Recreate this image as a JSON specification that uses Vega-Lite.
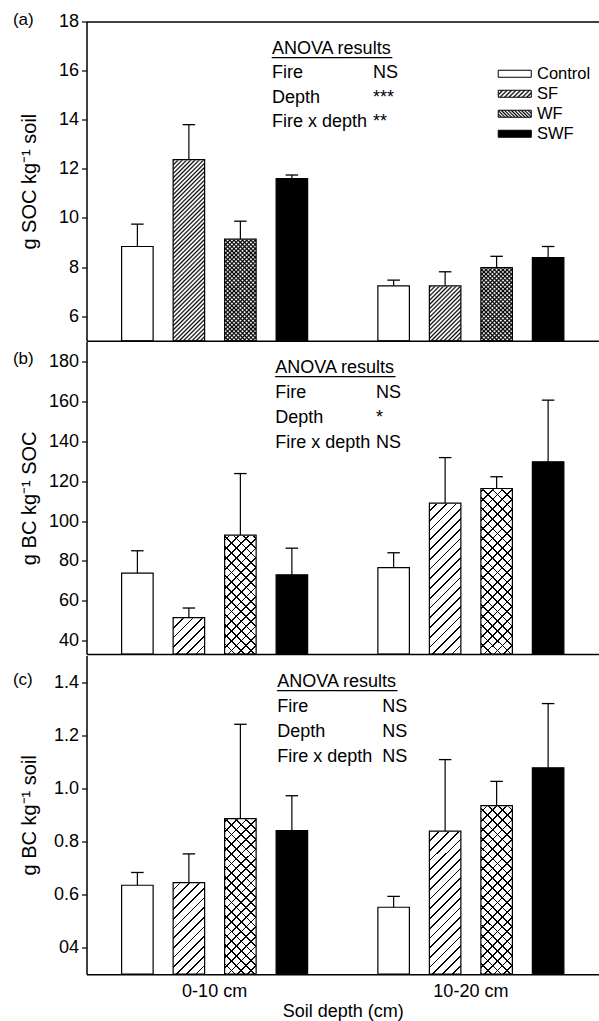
{
"$schema":"https://vega.github.io/schema/vega-lite/v6.json",
"background":"white",
"padding":{"left":12.5,"top":10.5,"right":0,"bottom":0},
"spacing":-1,
"config":{
 "font":"Liberation Sans",
 "view":{"stroke":null},
 "axis":{"grid":false,"labelFont":"Liberation Sans","titleFont":"Liberation Sans","labelColor":"#000","titleColor":"#000","tickColor":"#000","domainColor":"#000","titleFontWeight":"normal","zindex":1},
 "text":{"font":"Liberation Sans","color":"#000"}
},
"params":[
 {"name":"stA","value":[
  {"offset":0,"color":"#000"},{"offset":0.0078,"color":"#0000"},{"offset":0.0118,"color":"#0000"},
  {"offset":0.0196,"color":"#000"},{"offset":0.0275,"color":"#0000"},{"offset":0.0314,"color":"#0000"},
  {"offset":0.0392,"color":"#000"},{"offset":0.0471,"color":"#0000"},{"offset":0.0510,"color":"#0000"},
  {"offset":0.0588,"color":"#000"},{"offset":0.0667,"color":"#0000"},{"offset":0.0706,"color":"#0000"},
  {"offset":0.0784,"color":"#000"},{"offset":0.0863,"color":"#0000"},{"offset":0.0902,"color":"#0000"},
  {"offset":0.0980,"color":"#000"},{"offset":0.1059,"color":"#0000"},{"offset":0.1098,"color":"#0000"},
  {"offset":0.1176,"color":"#000"},{"offset":0.1255,"color":"#0000"},{"offset":0.1294,"color":"#0000"},
  {"offset":0.1373,"color":"#000"},{"offset":0.1451,"color":"#0000"},{"offset":0.1490,"color":"#0000"},
  {"offset":0.1569,"color":"#000"},{"offset":0.1647,"color":"#0000"},{"offset":0.1686,"color":"#0000"},
  {"offset":0.1765,"color":"#000"},{"offset":0.1843,"color":"#0000"},{"offset":0.1882,"color":"#0000"},
  {"offset":0.1961,"color":"#000"},{"offset":0.2039,"color":"#0000"},{"offset":0.2078,"color":"#0000"},
  {"offset":0.2157,"color":"#000"},{"offset":0.2235,"color":"#0000"},{"offset":0.2275,"color":"#0000"},
  {"offset":0.2353,"color":"#000"},{"offset":0.2431,"color":"#0000"},{"offset":0.2471,"color":"#0000"},
  {"offset":0.2549,"color":"#000"},{"offset":0.2627,"color":"#0000"},{"offset":0.2667,"color":"#0000"},
  {"offset":0.2745,"color":"#000"},{"offset":0.2824,"color":"#0000"},{"offset":0.2863,"color":"#0000"},
  {"offset":0.2941,"color":"#000"},{"offset":0.3020,"color":"#0000"},{"offset":0.3059,"color":"#0000"},
  {"offset":0.3137,"color":"#000"},{"offset":0.3216,"color":"#0000"},{"offset":0.3255,"color":"#0000"},
  {"offset":0.3333,"color":"#000"},{"offset":0.3412,"color":"#0000"},{"offset":0.3451,"color":"#0000"},
  {"offset":0.3529,"color":"#000"},{"offset":0.3608,"color":"#0000"},{"offset":0.3647,"color":"#0000"},
  {"offset":0.3725,"color":"#000"},{"offset":0.3804,"color":"#0000"},{"offset":0.3843,"color":"#0000"},
  {"offset":0.3922,"color":"#000"},{"offset":0.4000,"color":"#0000"},{"offset":0.4039,"color":"#0000"},
  {"offset":0.4118,"color":"#000"},{"offset":0.4196,"color":"#0000"},{"offset":0.4235,"color":"#0000"},
  {"offset":0.4314,"color":"#000"},{"offset":0.4392,"color":"#0000"},{"offset":0.4431,"color":"#0000"},
  {"offset":0.4510,"color":"#000"},{"offset":0.4588,"color":"#0000"},{"offset":0.4627,"color":"#0000"},
  {"offset":0.4706,"color":"#000"},{"offset":0.4784,"color":"#0000"},{"offset":0.4824,"color":"#0000"},
  {"offset":0.4902,"color":"#000"},{"offset":0.4980,"color":"#0000"},{"offset":0.5020,"color":"#0000"},
  {"offset":0.5098,"color":"#000"},{"offset":0.5176,"color":"#0000"},{"offset":0.5216,"color":"#0000"},
  {"offset":0.5294,"color":"#000"},{"offset":0.5373,"color":"#0000"},{"offset":0.5412,"color":"#0000"},
  {"offset":0.5490,"color":"#000"},{"offset":0.5569,"color":"#0000"},{"offset":0.5608,"color":"#0000"},
  {"offset":0.5686,"color":"#000"},{"offset":0.5765,"color":"#0000"},{"offset":0.5804,"color":"#0000"},
  {"offset":0.5882,"color":"#000"},{"offset":0.5961,"color":"#0000"},{"offset":0.6000,"color":"#0000"},
  {"offset":0.6078,"color":"#000"},{"offset":0.6157,"color":"#0000"},{"offset":0.6196,"color":"#0000"},
  {"offset":0.6275,"color":"#000"},{"offset":0.6353,"color":"#0000"},{"offset":0.6392,"color":"#0000"},
  {"offset":0.6471,"color":"#000"},{"offset":0.6549,"color":"#0000"},{"offset":0.6588,"color":"#0000"},
  {"offset":0.6667,"color":"#000"},{"offset":0.6745,"color":"#0000"},{"offset":0.6784,"color":"#0000"},
  {"offset":0.6863,"color":"#000"},{"offset":0.6941,"color":"#0000"},{"offset":0.6980,"color":"#0000"},
  {"offset":0.7059,"color":"#000"},{"offset":0.7137,"color":"#0000"},{"offset":0.7176,"color":"#0000"},
  {"offset":0.7255,"color":"#000"},{"offset":0.7333,"color":"#0000"},{"offset":0.7373,"color":"#0000"},
  {"offset":0.7451,"color":"#000"},{"offset":0.7529,"color":"#0000"},{"offset":0.7569,"color":"#0000"},
  {"offset":0.7647,"color":"#000"},{"offset":0.7725,"color":"#0000"},{"offset":0.7765,"color":"#0000"},
  {"offset":0.7843,"color":"#000"},{"offset":0.7922,"color":"#0000"},{"offset":0.7961,"color":"#0000"},
  {"offset":0.8039,"color":"#000"},{"offset":0.8118,"color":"#0000"},{"offset":0.8157,"color":"#0000"},
  {"offset":0.8235,"color":"#000"},{"offset":0.8314,"color":"#0000"},{"offset":0.8353,"color":"#0000"},
  {"offset":0.8431,"color":"#000"},{"offset":0.8510,"color":"#0000"},{"offset":0.8549,"color":"#0000"},
  {"offset":0.8627,"color":"#000"},{"offset":0.8706,"color":"#0000"},{"offset":0.8745,"color":"#0000"},
  {"offset":0.8824,"color":"#000"},{"offset":0.8902,"color":"#0000"},{"offset":0.8941,"color":"#0000"},
  {"offset":0.9020,"color":"#000"},{"offset":0.9098,"color":"#0000"},{"offset":0.9137,"color":"#0000"},
  {"offset":0.9216,"color":"#000"},{"offset":0.9294,"color":"#0000"},{"offset":0.9333,"color":"#0000"},
  {"offset":0.9412,"color":"#000"},{"offset":0.9490,"color":"#0000"},{"offset":0.9529,"color":"#0000"},
  {"offset":0.9608,"color":"#000"},{"offset":0.9686,"color":"#0000"},{"offset":0.9725,"color":"#0000"},
  {"offset":0.9804,"color":"#000"},{"offset":0.9882,"color":"#0000"},{"offset":0.9922,"color":"#0000"},
  {"offset":1,"color":"#000"}
 ]},
 {"name":"stB","value":[
  {"offset":0,"color":"#000"},{"offset":0.0085,"color":"#000"},{"offset":0.0085,"color":"#0000"},{"offset":0.0476,"color":"#0000"},
  {"offset":0.0476,"color":"#000"},{"offset":0.0561,"color":"#000"},{"offset":0.0561,"color":"#0000"},{"offset":0.0952,"color":"#0000"},
  {"offset":0.0952,"color":"#000"},{"offset":0.1037,"color":"#000"},{"offset":0.1037,"color":"#0000"},{"offset":0.1429,"color":"#0000"},
  {"offset":0.1429,"color":"#000"},{"offset":0.1514,"color":"#000"},{"offset":0.1514,"color":"#0000"},{"offset":0.1905,"color":"#0000"},
  {"offset":0.1905,"color":"#000"},{"offset":0.1990,"color":"#000"},{"offset":0.1990,"color":"#0000"},{"offset":0.2381,"color":"#0000"},
  {"offset":0.2381,"color":"#000"},{"offset":0.2466,"color":"#000"},{"offset":0.2466,"color":"#0000"},{"offset":0.2857,"color":"#0000"},
  {"offset":0.2857,"color":"#000"},{"offset":0.2942,"color":"#000"},{"offset":0.2942,"color":"#0000"},{"offset":0.3333,"color":"#0000"},
  {"offset":0.3333,"color":"#000"},{"offset":0.3418,"color":"#000"},{"offset":0.3418,"color":"#0000"},{"offset":0.3810,"color":"#0000"},
  {"offset":0.3810,"color":"#000"},{"offset":0.3895,"color":"#000"},{"offset":0.3895,"color":"#0000"},{"offset":0.4286,"color":"#0000"},
  {"offset":0.4286,"color":"#000"},{"offset":0.4371,"color":"#000"},{"offset":0.4371,"color":"#0000"},{"offset":0.4762,"color":"#0000"},
  {"offset":0.4762,"color":"#000"},{"offset":0.4847,"color":"#000"},{"offset":0.4847,"color":"#0000"},{"offset":0.5238,"color":"#0000"},
  {"offset":0.5238,"color":"#000"},{"offset":0.5323,"color":"#000"},{"offset":0.5323,"color":"#0000"},{"offset":0.5714,"color":"#0000"},
  {"offset":0.5714,"color":"#000"},{"offset":0.5799,"color":"#000"},{"offset":0.5799,"color":"#0000"},{"offset":0.6190,"color":"#0000"},
  {"offset":0.6190,"color":"#000"},{"offset":0.6275,"color":"#000"},{"offset":0.6275,"color":"#0000"},{"offset":0.6667,"color":"#0000"},
  {"offset":0.6667,"color":"#000"},{"offset":0.6752,"color":"#000"},{"offset":0.6752,"color":"#0000"},{"offset":0.7143,"color":"#0000"},
  {"offset":0.7143,"color":"#000"},{"offset":0.7228,"color":"#000"},{"offset":0.7228,"color":"#0000"},{"offset":0.7619,"color":"#0000"},
  {"offset":0.7619,"color":"#000"},{"offset":0.7704,"color":"#000"},{"offset":0.7704,"color":"#0000"},{"offset":0.8095,"color":"#0000"},
  {"offset":0.8095,"color":"#000"},{"offset":0.8180,"color":"#000"},{"offset":0.8180,"color":"#0000"},{"offset":0.8571,"color":"#0000"},
  {"offset":0.8571,"color":"#000"},{"offset":0.8656,"color":"#000"},{"offset":0.8656,"color":"#0000"},{"offset":0.9048,"color":"#0000"},
  {"offset":0.9048,"color":"#000"},{"offset":0.9133,"color":"#000"},{"offset":0.9133,"color":"#0000"},{"offset":0.9524,"color":"#0000"},
  {"offset":0.9524,"color":"#000"},{"offset":0.9609,"color":"#000"},{"offset":0.9609,"color":"#0000"},{"offset":1,"color":"#0000"}
 ]},
 {"name":"stL1","value":[
  {"offset":0,"color":"#000"},{"offset":0.0444,"color":"#0000"},{"offset":0.0667,"color":"#0000"},
  {"offset":0.1111,"color":"#000"},{"offset":0.1556,"color":"#0000"},{"offset":0.1778,"color":"#0000"},
  {"offset":0.2222,"color":"#000"},{"offset":0.2667,"color":"#0000"},{"offset":0.2889,"color":"#0000"},
  {"offset":0.3333,"color":"#000"},{"offset":0.3778,"color":"#0000"},{"offset":0.4000,"color":"#0000"},
  {"offset":0.4444,"color":"#000"},{"offset":0.4889,"color":"#0000"},{"offset":0.5111,"color":"#0000"},
  {"offset":0.5556,"color":"#000"},{"offset":0.6000,"color":"#0000"},{"offset":0.6222,"color":"#0000"},
  {"offset":0.6667,"color":"#000"},{"offset":0.7111,"color":"#0000"},{"offset":0.7333,"color":"#0000"},
  {"offset":0.7778,"color":"#000"},{"offset":0.8222,"color":"#0000"},{"offset":0.8444,"color":"#0000"},
  {"offset":0.8889,"color":"#000"},{"offset":0.9333,"color":"#0000"},{"offset":0.9556,"color":"#0000"},
  {"offset":1,"color":"#000"}
 ]},
 {"name":"stL2","value":[
  {"offset":0,"color":"#000"},{"offset":0.0417,"color":"#fff"},{"offset":0.0833,"color":"#000"},{"offset":0.125,"color":"#fff"},
  {"offset":0.1667,"color":"#000"},{"offset":0.2083,"color":"#fff"},{"offset":0.25,"color":"#000"},{"offset":0.2917,"color":"#fff"},
  {"offset":0.3333,"color":"#000"},{"offset":0.375,"color":"#fff"},{"offset":0.4167,"color":"#000"},{"offset":0.4583,"color":"#fff"},
  {"offset":0.5,"color":"#000"},{"offset":0.5417,"color":"#fff"},{"offset":0.5833,"color":"#000"},{"offset":0.625,"color":"#fff"},
  {"offset":0.6667,"color":"#000"},{"offset":0.7083,"color":"#fff"},{"offset":0.75,"color":"#000"},{"offset":0.7917,"color":"#fff"},
  {"offset":0.8333,"color":"#000"},{"offset":0.875,"color":"#fff"},{"offset":0.9167,"color":"#000"},{"offset":0.9583,"color":"#fff"},
  {"offset":1,"color":"#000"}
 ]}
],
"datasets":{
 "barsA":[
  {"depth":"0-10 cm","trt":"Control","mean":8.84,"hi":9.75},
  {"depth":"0-10 cm","trt":"SF","mean":12.38,"hi":13.8},
  {"depth":"0-10 cm","trt":"WF","mean":9.14,"hi":9.87},
  {"depth":"0-10 cm","trt":"SWF","mean":11.6,"hi":11.75},
  {"depth":"10-20 cm","trt":"Control","mean":7.24,"hi":7.47},
  {"depth":"10-20 cm","trt":"SF","mean":7.24,"hi":7.81},
  {"depth":"10-20 cm","trt":"WF","mean":7.98,"hi":8.44},
  {"depth":"10-20 cm","trt":"SWF","mean":8.39,"hi":8.84}
 ],
 "barsB":[
  {"depth":"0-10 cm","trt":"Control","mean":73.9,"hi":85.1},
  {"depth":"0-10 cm","trt":"SF","mean":51.6,"hi":56.4},
  {"depth":"0-10 cm","trt":"WF","mean":92.95,"hi":123.8},
  {"depth":"0-10 cm","trt":"SWF","mean":73.05,"hi":86.4},
  {"depth":"10-20 cm","trt":"Control","mean":76.6,"hi":84.1},
  {"depth":"10-20 cm","trt":"SF","mean":109.0,"hi":131.8},
  {"depth":"10-20 cm","trt":"WF","mean":116.3,"hi":122.2},
  {"depth":"10-20 cm","trt":"SWF","mean":129.7,"hi":160.6}
 ],
 "barsC":[
  {"depth":"0-10 cm","trt":"Control","mean":0.635,"hi":0.683},
  {"depth":"0-10 cm","trt":"SF","mean":0.645,"hi":0.753},
  {"depth":"0-10 cm","trt":"WF","mean":0.886,"hi":1.241},
  {"depth":"0-10 cm","trt":"SWF","mean":0.841,"hi":0.972},
  {"depth":"10-20 cm","trt":"Control","mean":0.552,"hi":0.593},
  {"depth":"10-20 cm","trt":"SF","mean":0.839,"hi":1.108},
  {"depth":"10-20 cm","trt":"WF","mean":0.935,"hi":1.026},
  {"depth":"10-20 cm","trt":"SWF","mean":1.077,"hi":1.319}
 ],
 "notesA":[{"label":"(a)","terms":["ANOVA results","Fire","Depth","Fire x depth"],"sig":["","NS","***","**"]}],
 "notesB":[{"label":"(b)","terms":["ANOVA results","Fire","Depth","Fire x depth"],"sig":["","NS","*","NS"]}],
 "notesC":[{"label":"(c)","terms":["ANOVA results","Fire","Depth","Fire x depth"],"sig":["","NS","NS","NS"]}]
},
"resolve":{"scale":{"fill":"independent"},"legend":{"fill":"independent"}},
"vconcat":[
 {
  "width":512.5,"height":319.3,
  "resolve":{"axis":{"x":"independent"}},
  "layer":[
   {"data":{"name":"barsA"},"transform":[{"filter":"datum.trt==='SF'||datum.trt==='WF'"}],
    "mark":{"type":"bar","fill":{"expr":"{gradient:'linear',x1:0,y1:0,x2:0.1946,y2:1.1377,stops:stA}"}},
    "encoding":{
     "x":{"field":"depth","type":"nominal","scale":{"domain":["0-10 cm","10-20 cm"],"paddingInner":0,"paddingOuter":0},"axis":{"orient":"top","labels":false,"ticks":false,"domain":true,"domainWidth":1.5,"title":null,"zindex":3}},
     "xOffset":{"field":"trt","type":"nominal","scale":{"domain":["Control","SF","WF","SWF"],"paddingInner":0.38835,"paddingOuter":0.682}},
     "y":{"datum":12.5,"type":"quantitative","scale":{"domain":[5,18],"zero":false,"nice":false},"axis":{"title":"g SOC kg⁻¹ soil","values":[6,8,10,12,14,16,18],"tickSize":5,"tickWidth":1.2,"labelPadding":3,"labelFontSize":18,"domain":true,"domainWidth":1.5,"minExtent":39,"maxExtent":39,"titlePadding":8,"titleFontSize":20,"zindex":3}},
     "y2":{"datum":5}}},
   {"data":{"name":"barsA"},"transform":[{"filter":"datum.trt==='WF'"}],
    "mark":{"type":"bar","fill":{"expr":"{gradient:'linear',x1:0,y1:1,x2:0.1946,y2:-0.1377,stops:stA}"}},
    "encoding":{
     "x":{"field":"depth","type":"nominal","axis":null},
     "xOffset":{"field":"trt","type":"nominal"},
     "y":{"datum":12.5,"type":"quantitative"},
     "y2":{"datum":5}}},
   {"data":{"name":"barsA"},"transform":[{"filter":"datum.trt==='SF'||datum.trt==='WF'"}],
    "mark":{"type":"bar","fill":"white","stroke":"white","strokeWidth":1.5},
    "encoding":{
     "x":{"field":"depth","type":"nominal","axis":null},
     "xOffset":{"field":"trt","type":"nominal"},
     "y":{"field":"mean","type":"quantitative"},
     "y2":{"datum":12.7}}},
   {"data":{"name":"barsA"},
    "mark":{"type":"bar","stroke":"black","strokeWidth":1.2},
    "encoding":{
     "x":{"field":"depth","type":"nominal","axis":{"orient":"bottom","labels":false,"ticks":false,"domain":true,"domainWidth":1.5,"title":null,"zindex":3}},
     "xOffset":{"field":"trt","type":"nominal"},
     "y":{"field":"mean","type":"quantitative"},
     "y2":{"datum":5},
     "fill":{"field":"trt","type":"nominal",
      "scale":{"domain":["Control","SF","WF","SWF"],"range":["#ffffff",{"expr":"{gradient:'linear',x1:0,y1:0,x2:1.16,y2:0.246,stops:stL1}"},{"expr":"{gradient:'linear',x1:0,y1:1,x2:1.16,y2:0.754,stops:stL2}"},"#000000"]},
      "legend":{"orient":"none","legendX":420,"legendY":44,"title":null,"symbolType":"M-2.36,-0.5H2.36V0.5H-2.36Z","symbolSize":196,"symbolStrokeColor":"black","symbolStrokeWidth":1,"symbolOpacity":1,"labelFontSize":16.5,"labelFont":"Liberation Sans","labelColor":"black","labelOffset":14,"rowPadding":3,"padding":0,"zindex":2},
      "condition":{"test":"datum.trt==='SF'||datum.trt==='WF'","value":"transparent"}}}},
   {"data":{"name":"barsA"},
    "mark":{"type":"rule","color":"black","strokeWidth":1.2},
    "encoding":{
     "x":{"field":"depth","type":"nominal","axis":null},
     "xOffset":{"field":"trt","type":"nominal"},
     "y":{"field":"mean","type":"quantitative"},
     "y2":{"field":"hi"}}},
   {"data":{"name":"barsA"},
    "mark":{"type":"tick","color":"black","thickness":1.3,"size":12.5,"opacity":1},
    "encoding":{
     "x":{"field":"depth","type":"nominal","axis":null},
     "xOffset":{"field":"trt","type":"nominal"},
     "y":{"field":"hi","type":"quantitative"}}},
   {"data":{"name":"notesA"},
    "mark":{"type":"text","align":"left","baseline":"alphabetic","fontSize":18,"lineHeight":24.5,"dx":57.3,"dy":32,"color":"black"},
    "encoding":{"x":{"datum":"0-10 cm","axis":null},"y":{"datum":18},"text":{"field":"terms"}}},
   {"data":{"name":"notesA"},
    "mark":{"type":"text","align":"left","baseline":"alphabetic","fontSize":18,"lineHeight":24.5,"dx":158.3,"dy":32,"color":"black"},
    "encoding":{"x":{"datum":"0-10 cm","axis":null},"y":{"datum":18},"text":{"field":"sig"}}},
   {"data":{"name":"notesA"},
    "mark":{"type":"text","align":"left","baseline":"alphabetic","fontSize":18,"dx":57.3,"dy":32,"color":"black","text":"____________"},
    "encoding":{"x":{"datum":"0-10 cm","axis":null},"y":{"datum":18}}},
   {"data":{"name":"notesA"},
    "mark":{"type":"text","align":"left","baseline":"middle","fontSize":17,"dx":-201.7,"dy":-2,"color":"black"},
    "encoding":{"x":{"datum":"0-10 cm","axis":null},"y":{"datum":18},"text":{"field":"label"}}}
  ]
 },
 {
  "width":512.5,"height":312.6,
  "layer":[
   {"data":{"name":"barsB"},"transform":[{"filter":"datum.trt==='SF'||datum.trt==='WF'"}],
    "mark":{"type":"bar","fill":{"expr":"{gradient:'linear',x1:0,y1:0,x2:0.2083,y2:1.1442,stops:stB}"}},
    "encoding":{
     "x":{"field":"depth","type":"nominal","scale":{"domain":["0-10 cm","10-20 cm"],"paddingInner":0,"paddingOuter":0},"axis":{"orient":"bottom","labels":false,"ticks":false,"domain":true,"domainWidth":1.5,"title":null,"zindex":3}},
     "xOffset":{"field":"trt","type":"nominal","scale":{"domain":["Control","SF","WF","SWF"],"paddingInner":0.38835,"paddingOuter":0.682}},
     "y":{"datum":120,"type":"quantitative","scale":{"domain":[33.3,190],"zero":false,"nice":false},"axis":{"title":"g BC kg⁻¹ SOC","values":[40,60,80,100,120,140,160,180],"tickSize":5,"tickWidth":1.2,"labelPadding":3,"labelFontSize":18,"domain":true,"domainWidth":1.5,"minExtent":39,"maxExtent":39,"titlePadding":8,"titleFontSize":20,"zindex":3}},
     "y2":{"datum":33.3}}},
   {"data":{"name":"barsB"},"transform":[{"filter":"datum.trt==='WF'"}],
    "mark":{"type":"bar","fill":{"expr":"{gradient:'linear',x1:0,y1:1,x2:0.2083,y2:-0.1442,stops:stB}"}},
    "encoding":{
     "x":{"field":"depth","type":"nominal"},
     "xOffset":{"field":"trt","type":"nominal"},
     "y":{"datum":120,"type":"quantitative"},
     "y2":{"datum":33.3}}},
   {"data":{"name":"barsB"},"transform":[{"filter":"datum.trt==='SF'||datum.trt==='WF'"}],
    "mark":{"type":"bar","fill":"white","stroke":"white","strokeWidth":1.5},
    "encoding":{
     "x":{"field":"depth","type":"nominal"},
     "xOffset":{"field":"trt","type":"nominal"},
     "y":{"field":"mean","type":"quantitative"},
     "y2":{"datum":121.5}}},
   {"data":{"name":"barsB"},
    "mark":{"type":"bar","stroke":"black","strokeWidth":1.2},
    "encoding":{
     "x":{"field":"depth","type":"nominal"},
     "xOffset":{"field":"trt","type":"nominal"},
     "y":{"field":"mean","type":"quantitative"},
     "y2":{"datum":33.3},
     "fill":{"field":"trt","type":"nominal","scale":{"domain":["Control","SF","WF","SWF"],"range":["#ffffff","#ffffff","#ffffff","#000000"]},"legend":null,
      "condition":{"test":"datum.trt==='SF'||datum.trt==='WF'","value":"transparent"}}}},
   {"data":{"name":"barsB"},
    "mark":{"type":"rule","color":"black","strokeWidth":1.2},
    "encoding":{
     "x":{"field":"depth","type":"nominal"},
     "xOffset":{"field":"trt","type":"nominal"},
     "y":{"field":"mean","type":"quantitative"},
     "y2":{"field":"hi"}}},
   {"data":{"name":"barsB"},
    "mark":{"type":"tick","color":"black","thickness":1.3,"size":12.5,"opacity":1},
    "encoding":{
     "x":{"field":"depth","type":"nominal"},
     "xOffset":{"field":"trt","type":"nominal"},
     "y":{"field":"hi","type":"quantitative"}}},
   {"data":{"name":"notesB"},
    "mark":{"type":"text","align":"left","baseline":"alphabetic","fontSize":18,"lineHeight":25,"dx":60.6,"dy":31,"color":"black"},
    "encoding":{"x":{"datum":"0-10 cm"},"y":{"datum":190},"text":{"field":"terms"}}},
   {"data":{"name":"notesB"},
    "mark":{"type":"text","align":"left","baseline":"alphabetic","fontSize":18,"lineHeight":25,"dx":161.3,"dy":31,"color":"black"},
    "encoding":{"x":{"datum":"0-10 cm"},"y":{"datum":190},"text":{"field":"sig"}}},
   {"data":{"name":"notesB"},
    "mark":{"type":"text","align":"left","baseline":"alphabetic","fontSize":18,"dx":60.6,"dy":31,"color":"black","text":"____________"},
    "encoding":{"x":{"datum":"0-10 cm"},"y":{"datum":190}}},
   {"data":{"name":"notesB"},
    "mark":{"type":"text","align":"left","baseline":"middle","fontSize":17,"dx":-201.7,"dy":-2,"color":"black"},
    "encoding":{"x":{"datum":"0-10 cm"},"y":{"datum":180},"text":{"field":"label"}}}
  ]
 },
 {
  "width":512.5,"height":318.7,
  "layer":[
   {"data":{"name":"barsC"},"transform":[{"filter":"datum.trt==='SF'||datum.trt==='WF'"}],
    "mark":{"type":"bar","fill":{"expr":"{gradient:'linear',x1:0,y1:0,x2:0.2083,y2:1.1442,stops:stB}"}},
    "encoding":{
     "x":{"field":"depth","type":"nominal","scale":{"domain":["0-10 cm","10-20 cm"],"paddingInner":0,"paddingOuter":0},"axis":{"orient":"bottom","labels":true,"ticks":false,"tickSize":0,"labelPadding":8,"labelFontSize":18,"labelAngle":0,"domain":true,"domainWidth":1.5,"title":"Soil depth (cm)","titleFontSize":18,"titlePadding":2,"zindex":3}},
     "xOffset":{"field":"trt","type":"nominal","scale":{"domain":["Control","SF","WF","SWF"],"paddingInner":0.38835,"paddingOuter":0.682}},
     "y":{"datum":0.95,"type":"quantitative","scale":{"domain":[0.3,1.5],"zero":false,"nice":false},"axis":{"title":"g BC kg⁻¹ soil","values":[0.4,0.6,0.8,1.0,1.2,1.4],"labelExpr":"datum.value < 0.5 ? '04' : format(datum.value, '.1f')","tickSize":5,"tickWidth":1.2,"labelPadding":3,"labelFontSize":18,"domain":true,"domainWidth":1.5,"minExtent":39,"maxExtent":39,"titlePadding":8,"titleFontSize":20,"zindex":3}},
     "y2":{"datum":0.3}}},
   {"data":{"name":"barsC"},"transform":[{"filter":"datum.trt==='WF'"}],
    "mark":{"type":"bar","fill":{"expr":"{gradient:'linear',x1:0,y1:1,x2:0.2083,y2:-0.1442,stops:stB}"}},
    "encoding":{
     "x":{"field":"depth","type":"nominal"},
     "xOffset":{"field":"trt","type":"nominal"},
     "y":{"datum":0.95,"type":"quantitative"},
     "y2":{"datum":0.3}}},
   {"data":{"name":"barsC"},"transform":[{"filter":"datum.trt==='SF'||datum.trt==='WF'"}],
    "mark":{"type":"bar","fill":"white","stroke":"white","strokeWidth":1.5},
    "encoding":{
     "x":{"field":"depth","type":"nominal"},
     "xOffset":{"field":"trt","type":"nominal"},
     "y":{"field":"mean","type":"quantitative"},
     "y2":{"datum":0.96}}},
   {"data":{"name":"barsC"},
    "mark":{"type":"bar","stroke":"black","strokeWidth":1.2},
    "encoding":{
     "x":{"field":"depth","type":"nominal"},
     "xOffset":{"field":"trt","type":"nominal"},
     "y":{"field":"mean","type":"quantitative"},
     "y2":{"datum":0.3},
     "fill":{"field":"trt","type":"nominal","scale":{"domain":["Control","SF","WF","SWF"],"range":["#ffffff","#ffffff","#ffffff","#000000"]},"legend":null,
      "condition":{"test":"datum.trt==='SF'||datum.trt==='WF'","value":"transparent"}}}},
   {"data":{"name":"barsC"},
    "mark":{"type":"rule","color":"black","strokeWidth":1.2},
    "encoding":{
     "x":{"field":"depth","type":"nominal"},
     "xOffset":{"field":"trt","type":"nominal"},
     "y":{"field":"mean","type":"quantitative"},
     "y2":{"field":"hi"}}},
   {"data":{"name":"barsC"},
    "mark":{"type":"tick","color":"black","thickness":1.3,"size":12.5,"opacity":1},
    "encoding":{
     "x":{"field":"depth","type":"nominal"},
     "xOffset":{"field":"trt","type":"nominal"},
     "y":{"field":"hi","type":"quantitative"}}},
   {"data":{"name":"notesC"},
    "mark":{"type":"text","align":"left","baseline":"alphabetic","fontSize":18,"lineHeight":25,"dx":62.6,"dy":31,"color":"black"},
    "encoding":{"x":{"datum":"0-10 cm"},"y":{"datum":1.5},"text":{"field":"terms"}}},
   {"data":{"name":"notesC"},
    "mark":{"type":"text","align":"left","baseline":"alphabetic","fontSize":18,"lineHeight":25,"dx":167.6,"dy":31,"color":"black"},
    "encoding":{"x":{"datum":"0-10 cm"},"y":{"datum":1.5},"text":{"field":"sig"}}},
   {"data":{"name":"notesC"},
    "mark":{"type":"text","align":"left","baseline":"alphabetic","fontSize":18,"dx":62.6,"dy":31,"color":"black","text":"____________"},
    "encoding":{"x":{"datum":"0-10 cm"},"y":{"datum":1.5}}},
   {"data":{"name":"notesC"},
    "mark":{"type":"text","align":"left","baseline":"middle","fontSize":17,"dx":-201.7,"dy":-2,"color":"black"},
    "encoding":{"x":{"datum":"0-10 cm"},"y":{"datum":1.4},"text":{"field":"label"}}}
  ]
 }
]
}
